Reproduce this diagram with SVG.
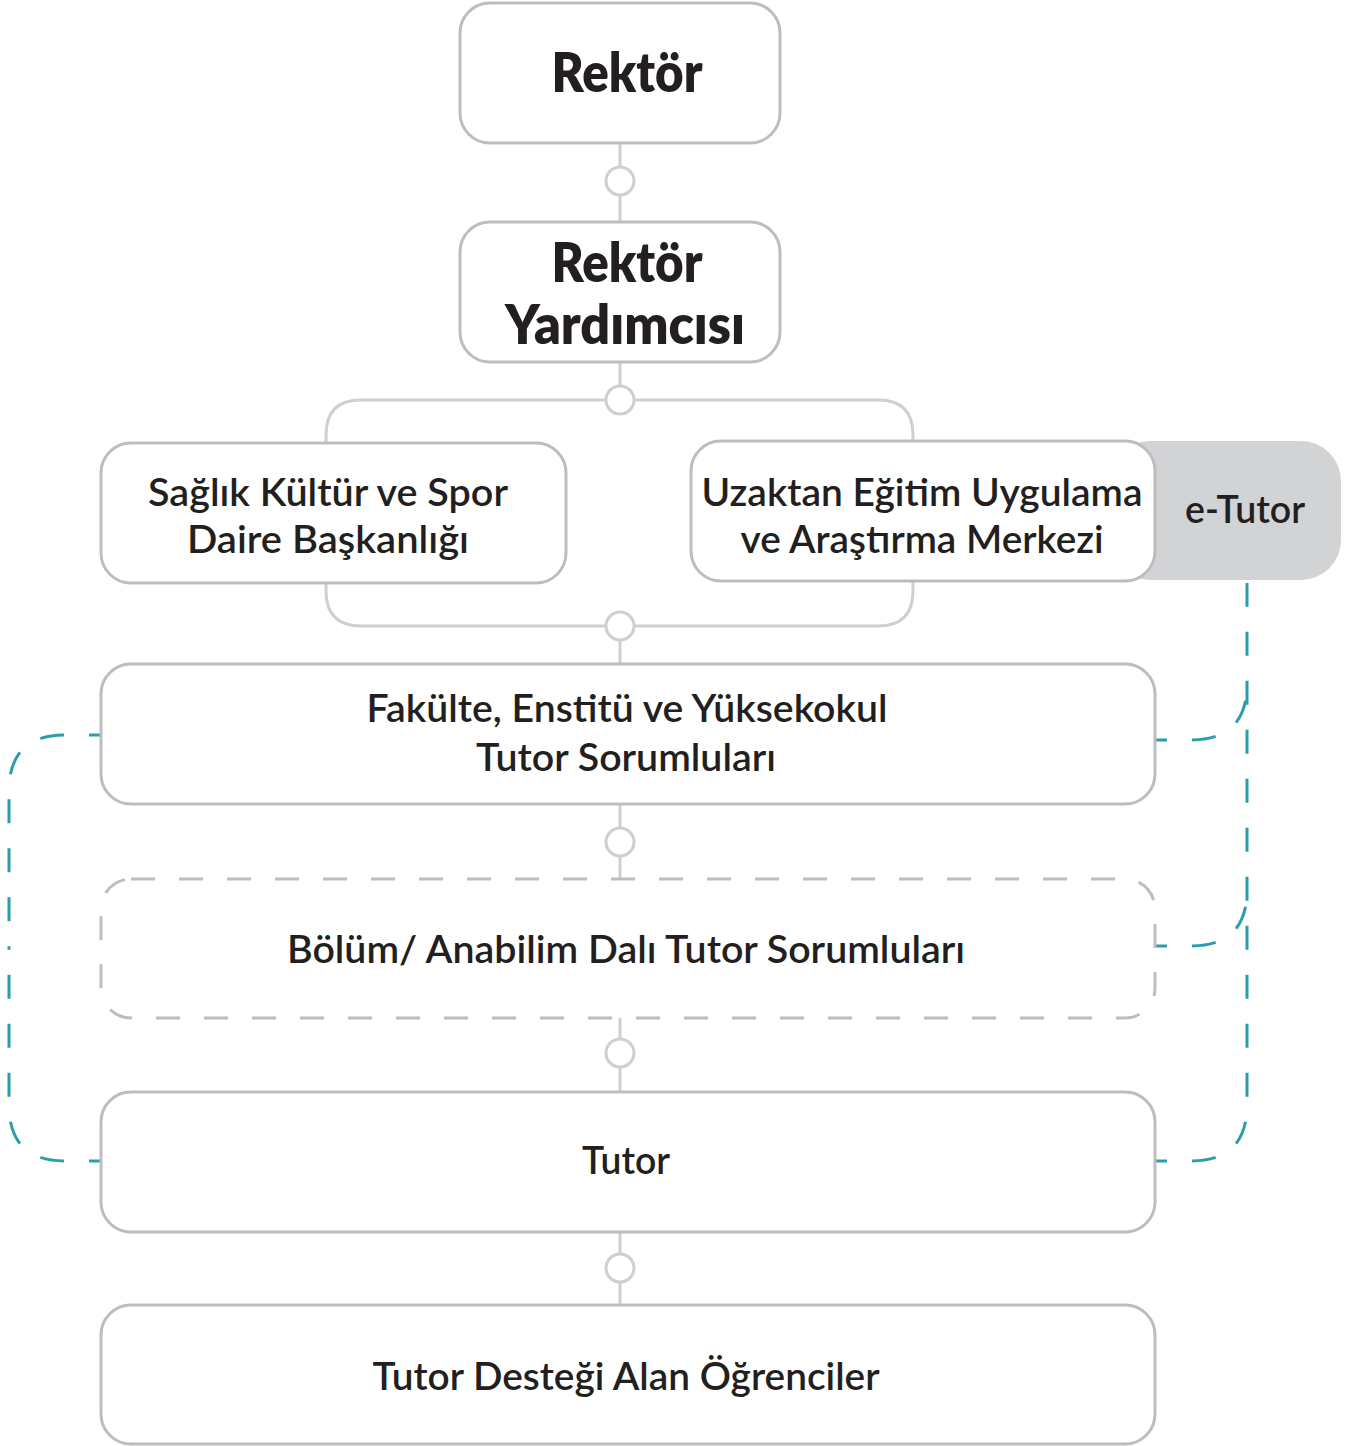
<svg xmlns="http://www.w3.org/2000/svg" width="1354" height="1446" viewBox="0 0 1354 1446">
<style>
.box{fill:#fff;stroke:#bdbdc0;stroke-width:3}
.dbox{fill:#fff;stroke:#bdbdc0;stroke-width:3;stroke-dasharray:24 24}
.ln{fill:none;stroke:#cfcfd1;stroke-width:3}
.dot{fill:#fff;stroke:#cfcfd1;stroke-width:3}
.teal{fill:none;stroke:#2a9dac;stroke-width:3;stroke-dasharray:24 25;stroke-dashoffset:12}
.t{font-family:Lato,"Open Sans",sans-serif;font-weight:600;font-size:38px;fill:#231f20;text-anchor:middle}
.tb{font-family:Lato,"Open Sans",sans-serif;font-weight:800;font-size:54px;fill:#231f20;text-anchor:middle}
</style>
<g id="connectors">
<line class="ln" x1="620" y1="143" x2="620" y2="222"/>
<line class="ln" x1="620" y1="362" x2="620" y2="400"/>
<path class="ln" d="M326 442 V435 Q326 400 361 400 H878 Q913 400 913 435 V442"/>
<path class="ln" d="M326 584 V591 Q326 626 361 626 H878 Q913 626 913 591 V582"/>
<line class="ln" x1="620" y1="626" x2="620" y2="664"/>
<line class="ln" x1="620" y1="804" x2="620" y2="879"/>
<line class="ln" x1="620" y1="1018" x2="620" y2="1092"/>
<line class="ln" x1="620" y1="1232" x2="620" y2="1305"/>
<circle class="dot" cx="620" cy="181" r="14"/>
<circle class="dot" cx="620" cy="400" r="14"/>
<circle class="dot" cx="620" cy="626" r="14"/>
<circle class="dot" cx="620" cy="842" r="14"/>
<circle class="dot" cx="620" cy="1053" r="14"/>
<circle class="dot" cx="620" cy="1268" r="14"/>
<path class="teal" d="M101 735 H65 Q9 735 9 791 V948"/>
<path class="teal" d="M101 1161 H65 Q9 1161 9 1105 V948"/>
<path class="teal" d="M1155 1161 H1191 Q1247 1161 1247 1105 V583"/>
<path class="teal" d="M1155 740 H1191 Q1247 740 1247 684"/>
<path class="teal" d="M1155 946 H1191 Q1247 946 1247 890"/>
</g>
<g id="rektor">
<rect class="box" x="460" y="3" width="320" height="140" rx="30"/>
<text class="tb" x="627" y="92" textLength="151" lengthAdjust="spacingAndGlyphs">Rektör</text>
</g>
<g id="rektor-yardimcisi">
<rect class="box" x="460" y="222" width="320" height="140" rx="30"/>
<text class="tb" x="627" y="282" textLength="151" lengthAdjust="spacingAndGlyphs">Rektör</text>
<text class="tb" x="625" y="344" textLength="240" lengthAdjust="spacingAndGlyphs">Yardımcısı</text>
</g>
<g id="saglik">
<rect class="box" x="101" y="443" width="465" height="140" rx="30"/>
<text class="t" x="328" y="506" textLength="360" lengthAdjust="spacingAndGlyphs">Sağlık Kültür ve Spor</text>
<text class="t" x="328" y="553" textLength="282" lengthAdjust="spacingAndGlyphs">Daire Başkanlığı</text>
</g>
<g id="etutor">
<rect x="1110" y="441" width="231" height="139" rx="40" fill="#d2d3d5"/>
<text class="t" x="1245" y="523" textLength="120" lengthAdjust="spacingAndGlyphs">e-Tutor</text>
</g>
<g id="uzaktan">
<rect class="box" x="691" y="441" width="464" height="140" rx="30"/>
<text class="t" x="922" y="506" textLength="441" lengthAdjust="spacingAndGlyphs">Uzaktan Eğitim Uygulama</text>
<text class="t" x="922" y="553" textLength="363" lengthAdjust="spacingAndGlyphs">ve Araştırma Merkezi</text>
</g>
<g id="fakulte">
<rect class="box" x="101" y="664" width="1054" height="140" rx="30"/>
<text class="t" x="627" y="722" textLength="521" lengthAdjust="spacingAndGlyphs">Fakülte, Enstitü ve Yüksekokul</text>
<text class="t" x="626" y="771" textLength="300" lengthAdjust="spacingAndGlyphs">Tutor Sorumluları</text>
</g>
<g id="bolum">
<rect class="dbox" x="101" y="879" width="1054" height="139" rx="30"/>
<text class="t" x="626" y="963" textLength="678" lengthAdjust="spacingAndGlyphs">Bölüm/ Anabilim Dalı Tutor Sorumluları</text>
</g>
<g id="tutor">
<rect class="box" x="101" y="1092" width="1054" height="140" rx="30"/>
<text class="t" x="626" y="1174" textLength="88" lengthAdjust="spacingAndGlyphs">Tutor</text>
</g>
<g id="ogrenciler">
<rect class="box" x="101" y="1305" width="1054" height="139" rx="30"/>
<text class="t" x="626" y="1390" textLength="507" lengthAdjust="spacingAndGlyphs">Tutor Desteği Alan Öğrenciler</text>
</g>
</svg>
